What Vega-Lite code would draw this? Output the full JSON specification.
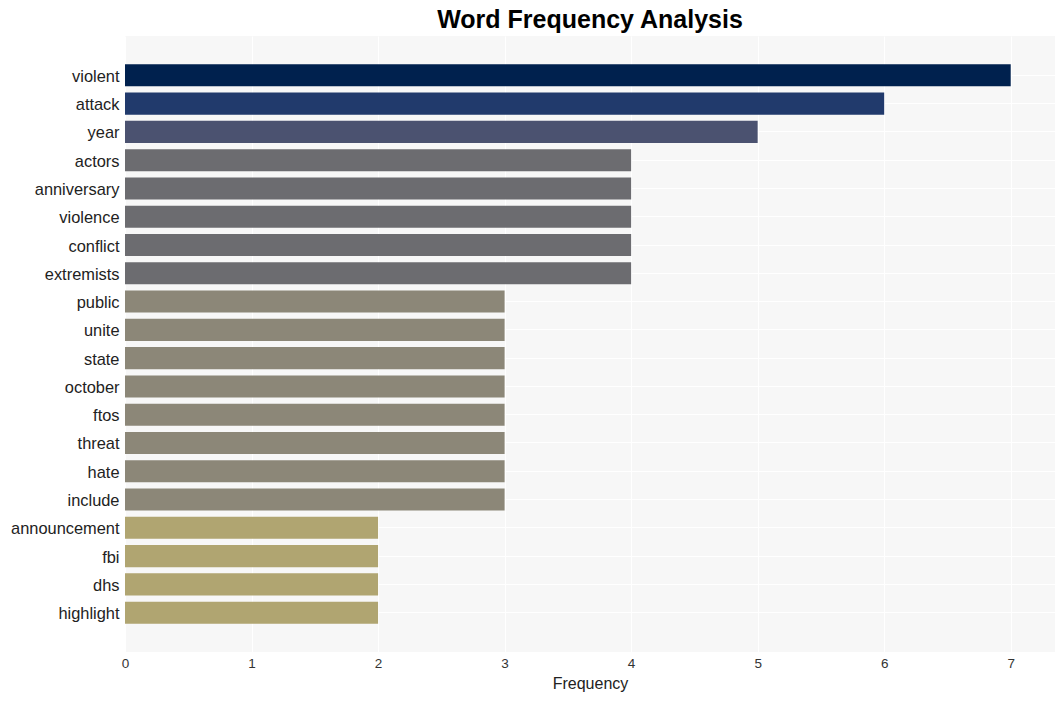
{
  "$schema": "https://vega.github.io/schema/vega-lite/v6.json",
  "width": 930,
  "height": 616,
  "autosize": {"type": "none"},
  "padding": {"left": 125, "top": 36, "right": 9, "bottom": 49},
  "background": "white",
  "title": {
    "text": "Word Frequency Analysis",
    "fontSize": 25,
    "fontWeight": "bold",
    "font": "Liberation Sans",
    "color": "#000000",
    "anchor": "middle",
    "frame": "group",
    "offset": 3
  },
  "config": {
    "view": {"fill": "#f7f7f7", "stroke": null},
    "font": "Liberation Sans"
  },
  "data": {
    "values": [
      {"word": "violent", "frequency": 7},
      {"word": "attack", "frequency": 6},
      {"word": "year", "frequency": 5},
      {"word": "actors", "frequency": 4},
      {"word": "anniversary", "frequency": 4},
      {"word": "violence", "frequency": 4},
      {"word": "conflict", "frequency": 4},
      {"word": "extremists", "frequency": 4},
      {"word": "public", "frequency": 3},
      {"word": "unite", "frequency": 3},
      {"word": "state", "frequency": 3},
      {"word": "october", "frequency": 3},
      {"word": "ftos", "frequency": 3},
      {"word": "threat", "frequency": 3},
      {"word": "hate", "frequency": 3},
      {"word": "include", "frequency": 3},
      {"word": "announcement", "frequency": 2},
      {"word": "fbi", "frequency": 2},
      {"word": "dhs", "frequency": 2},
      {"word": "highlight", "frequency": 2}
    ]
  },
  "mark": {"type": "bar"},
  "encoding": {
    "y": {
      "field": "word",
      "type": "nominal",
      "sort": null,
      "scale": {"paddingInner": 0.22, "paddingOuter": 1},
      "axis": {
        "title": null,
        "ticks": false,
        "domain": false,
        "labelPadding": 6,
        "labelOffset": 1.5,
        "labelFontSize": 16.4,
        "labelColor": "#222222",
        "grid": true,
        "gridColor": "#ffffff",
        "gridWidth": 1,
        "bandPosition": 0.5
      }
    },
    "x": {
      "field": "frequency",
      "type": "quantitative",
      "scale": {"domain": [0, 7.35], "nice": false, "zero": true},
      "axis": {
        "title": "Frequency",
        "titleFontSize": 16,
        "titleFontWeight": "normal",
        "titleColor": "#222222",
        "titlePadding": 6,
        "values": [0, 1, 2, 3, 4, 5, 6, 7],
        "format": "d",
        "ticks": false,
        "domain": false,
        "labelFlush": false,
        "labelPadding": 4,
        "labelFontSize": 13.5,
        "labelColor": "#333333",
        "grid": true,
        "gridColor": "#ffffff",
        "gridWidth": 1
      }
    },
    "color": {
      "field": "frequency",
      "type": "ordinal",
      "scale": {
        "domain": [7, 6, 5, 4, 3, 2],
        "range": ["#00214e", "#213a6c", "#4b5270", "#6c6c70", "#8c8778", "#b0a571"]
      },
      "legend": null
    }
  }
}
